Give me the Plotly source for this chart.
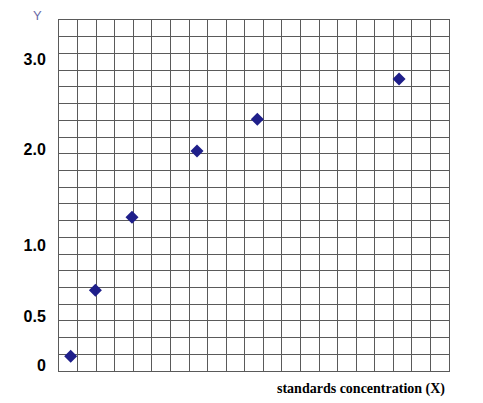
import plotly.graph_objects as go

# Values, in grid-cell units (21 x 21 grid)
x_vals = [0.63, 1.96, 3.93, 7.43, 10.68, 18.31]
y_vals = [0.88, 4.83, 9.20, 13.16, 15.06, 17.47]

y_tick_labels = ["0", "0.5", "1.0", "2.0", "3.0"]
y_tick_pos = [0.32, 3.25, 7.54, 13.28, 18.65]

n_cols = 21
n_rows = 21

fig = go.Figure()
fig.add_trace(go.Scatter(
    x=x_vals, y=y_vals, mode="markers",
    marker=dict(symbol="diamond", size=10, color="#1f1f8a"),
    showlegend=False, hoverinfo="skip",
))

grid_color = "#5a5a5a"
fig.update_xaxes(
    range=[0, n_cols], dtick=1, tick0=0, showgrid=True, gridcolor=grid_color,
    gridwidth=1, zeroline=False, showticklabels=False, ticks="",
    showline=True, mirror=True, linecolor=grid_color, linewidth=1,
    automargin=False,
)
fig.update_yaxes(
    range=[0, n_rows], showgrid=False, zeroline=False,
    tickmode="array", tickvals=y_tick_pos, ticktext=y_tick_labels,
    ticks="outside", ticklen=9, tickcolor="rgba(0,0,0,0)",
    tickfont=dict(family="Liberation Sans, Arial, sans-serif", size=16,
                  color="black", weight="bold"),
    showline=True, mirror=True, linecolor=grid_color, linewidth=1,
    automargin=False,
)
# horizontal grid lines drawn through a secondary overlay axis
fig.update_layout(
    yaxis2=dict(range=[0, n_rows], dtick=1, tick0=0, overlaying="y",
                showgrid=True, gridcolor=grid_color, gridwidth=1,
                showticklabels=False, zeroline=False, ticks="",
                automargin=False),
)
fig.add_trace(go.Scatter(x=[None], y=[None], yaxis="y2", showlegend=False))

fig.add_annotation(
    text="Y", xref="paper", yref="paper", x=-0.054, y=1.014,
    xanchor="center", yanchor="middle", showarrow=False,
    font=dict(family="Liberation Sans, Arial, sans-serif", size=13, color="#6b6ba8"),
)
fig.add_annotation(
    text="standards concentration (X)", xref="paper", yref="paper",
    x=0.995, y=-0.052, xanchor="right", yanchor="middle", showarrow=False,
    font=dict(family="Liberation Serif, Times New Roman, serif", size=14,
              color="black", weight="bold"),
)

fig.update_layout(
    width=475, height=395,
    margin=dict(l=51, r=34, t=12, b=32, autoexpand=False),
    plot_bgcolor="white", paper_bgcolor="white",
)

fig.write_html("out.html")
